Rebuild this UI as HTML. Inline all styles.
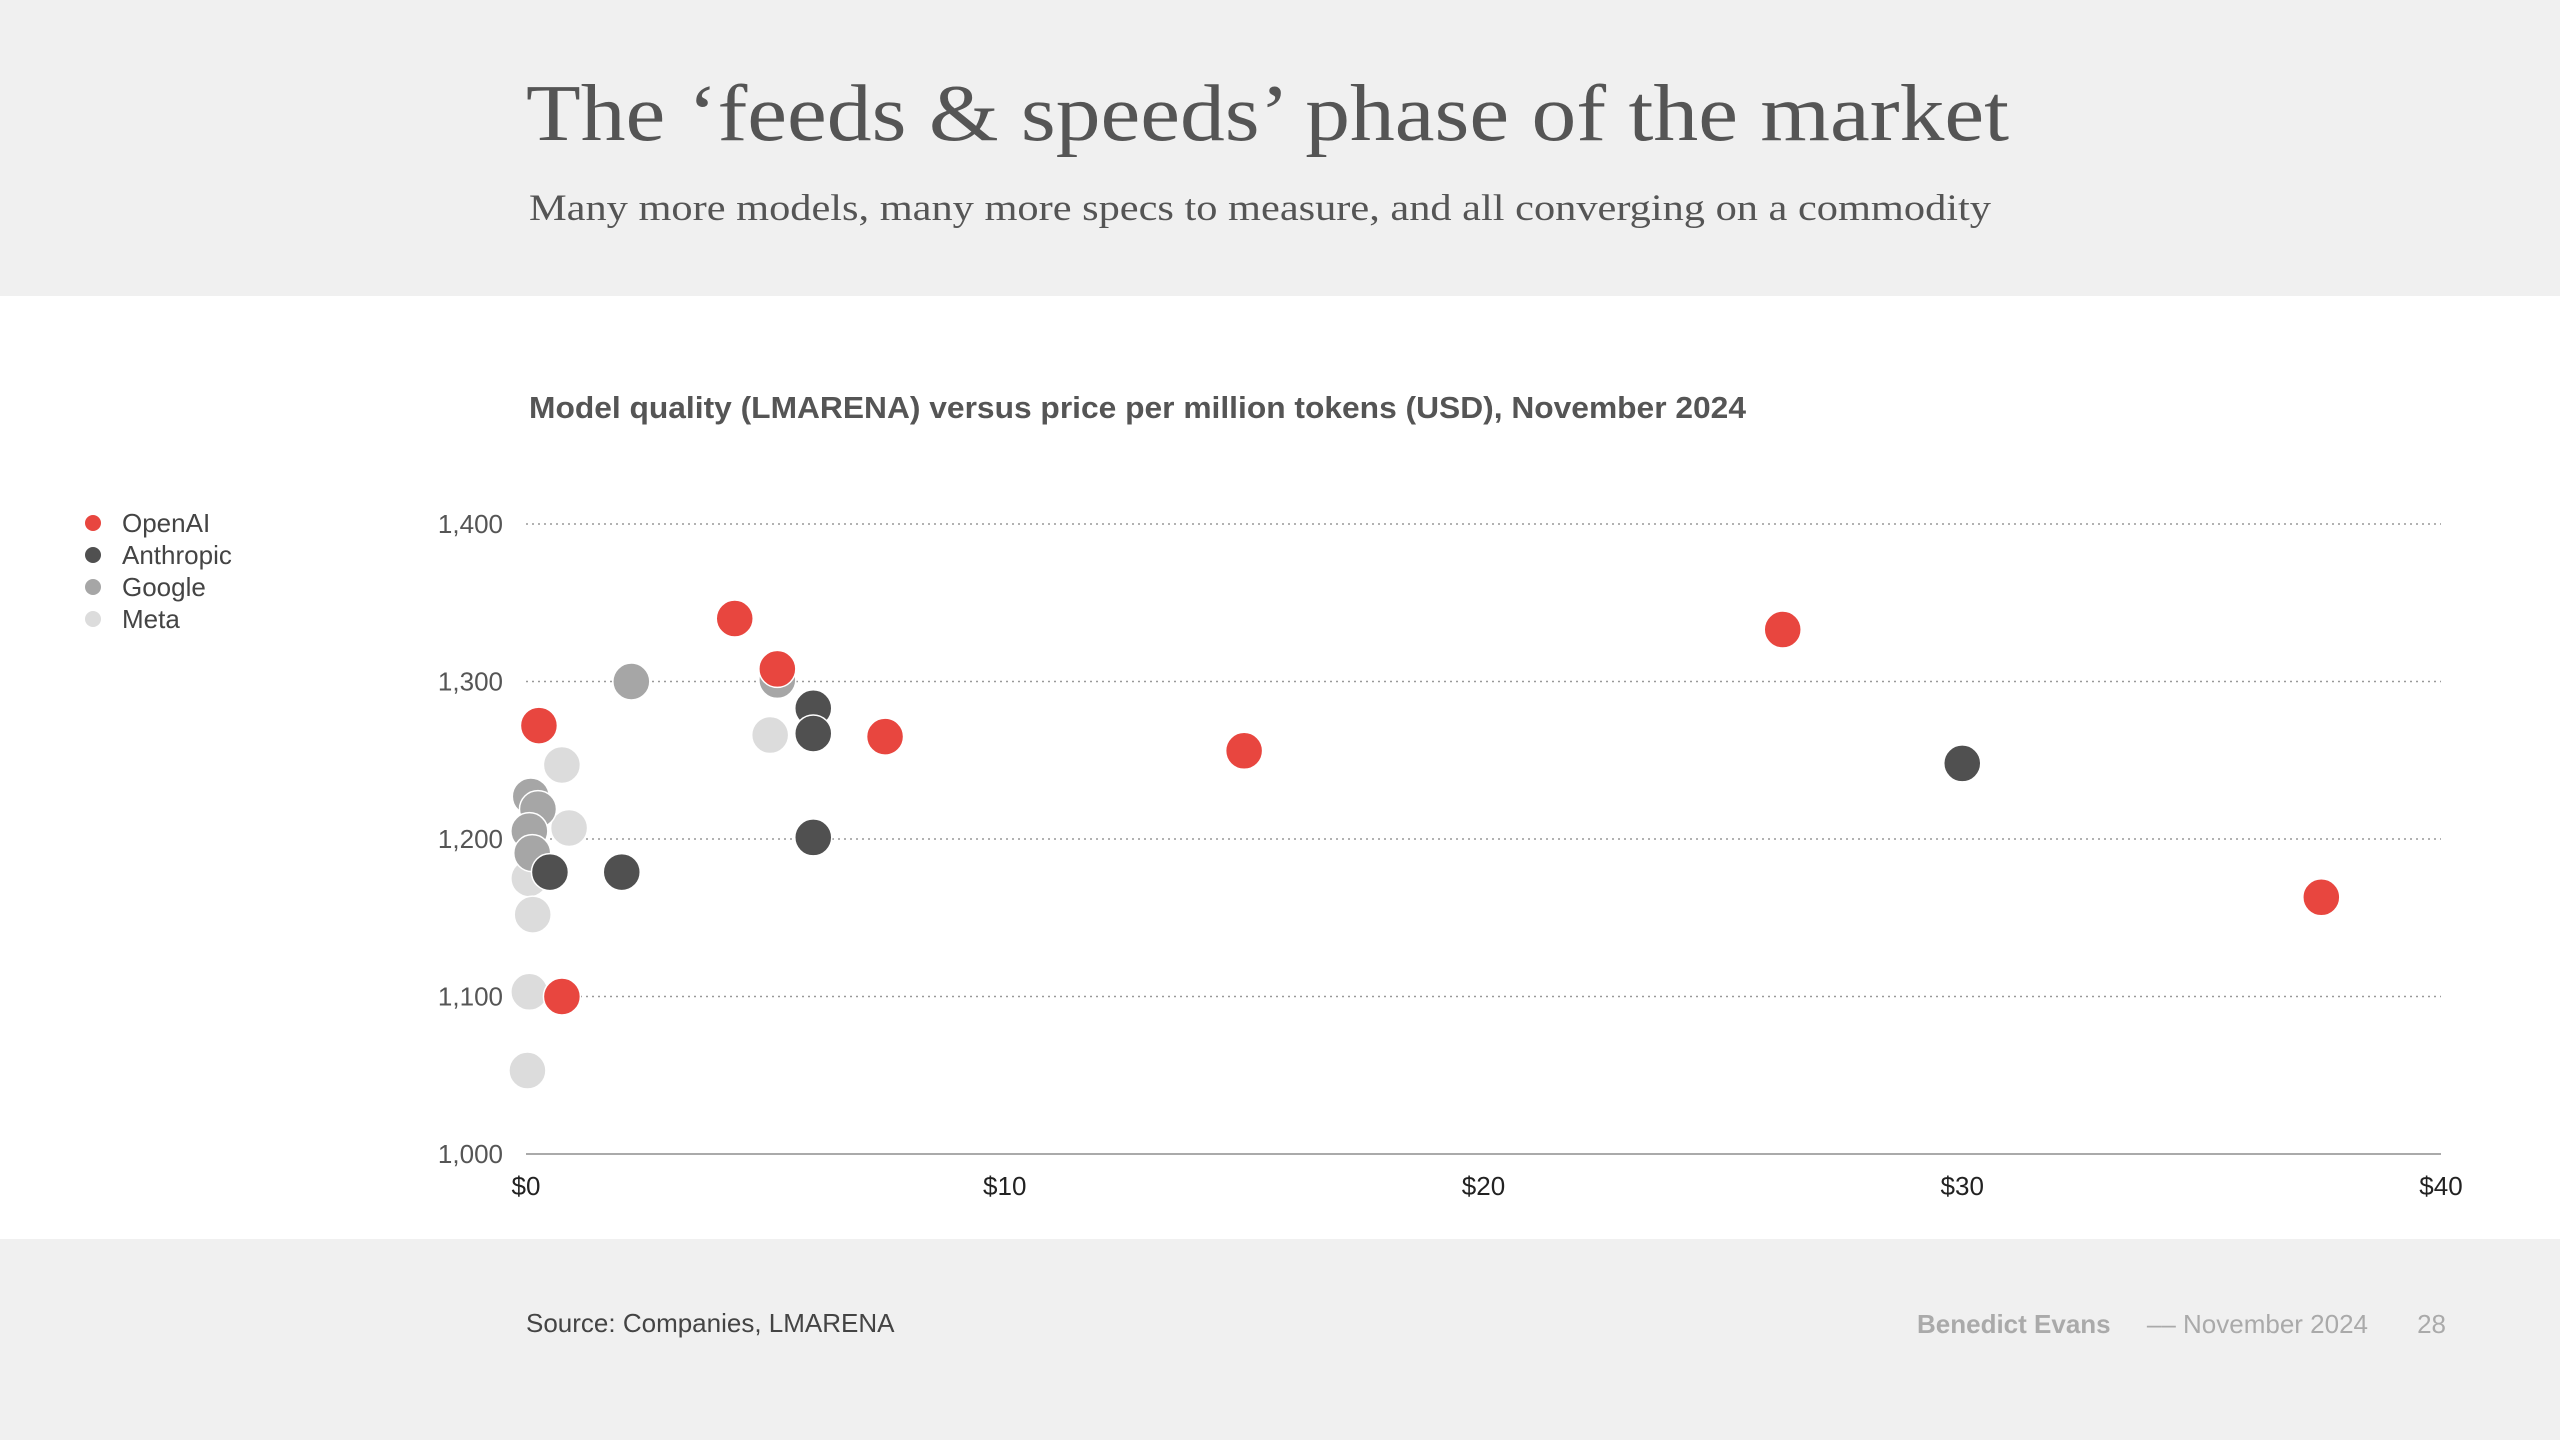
<!DOCTYPE html>
<html><head><meta charset="utf-8"><style>
html,body{margin:0;padding:0;width:2560px;height:1440px;overflow:hidden;background:#fff}
svg text{font-family:"Liberation Sans",sans-serif}
</style></head><body>
<svg id="chart" width="2560" height="1440" viewBox="0 0 2560 1440" xmlns="http://www.w3.org/2000/svg">
<rect x="0" y="0" width="2560" height="296" fill="#f0f0f0"/>
<rect x="0" y="1239" width="2560" height="201" fill="#f0f0f0"/>
<text x="526" y="140" font-size="80" fill="#555" style="font-family:'Liberation Serif',serif" textLength="1483" lengthAdjust="spacingAndGlyphs">The ‘feeds &amp; speeds’ phase of the market</text>
<text x="529" y="220" font-size="37" fill="#555" style="font-family:'Liberation Serif',serif" textLength="1462" lengthAdjust="spacingAndGlyphs">Many more models, many more specs to measure, and all converging on a commodity</text>
<text x="529" y="418" font-size="31" font-weight="bold" fill="#555" textLength="1217" lengthAdjust="spacingAndGlyphs">Model quality (LMARENA) versus price per million tokens (USD), November 2024</text>
<g id="legend"></g>
<g id="grid"></g>
<g id="points"></g>
<text x="526" y="1332" font-size="26" fill="#444">Source: Companies, LMARENA</text>
<text x="1917" y="1333" font-size="26" fill="#aaa" font-weight="bold">Benedict Evans</text>
<text x="2368" y="1333" font-size="26" fill="#aaa" text-anchor="end">––  November 2024</text>
<text x="2446" y="1333" font-size="26" fill="#aaa" text-anchor="end">28</text>
</svg>
<script>
const seriesNames = ['Meta','Google','Anthropic','OpenAI'];
const seriesColors = ['#dcdcdc','#a6a6a6','#505050','#e8463f'];
const metaX = [0.75,0.9,5.1,0.07,0.14,0.07,0.03];
const metaY = [1247,1207,1266,1175,1152,1103,1053];
const googleX = [2.2,5.25,0.1,0.25,0.07,0.13];
const googleY = [1300,1301,1227,1219,1205,1191];
const anthropicX = [6,6,6,30,0.5,2];
const anthropicY = [1283,1267,1201,1248,1179,1179];
const openaiX = [4.36,5.25,0.27,7.5,15,26.25,37.5,0.75];
const openaiY = [1340,1308,1272,1265,1256,1333,1163,1100];
const yTicks = [1000,1100,1200,1300,1400];
const yTickLabels = ['1,000','1,100','1,200','1,300','1,400'];
const xTicks = [0,10,20,30,40];
const xTickLabels = ['$0','$10','$20','$30','$40'];
const legendOrder = ['OpenAI','Anthropic','Google','Meta'];

const NS='http://www.w3.org/2000/svg';
const X0=526,X1=2441,Y0=1154,Y1=524;
function xs(v){return X0+(v-0)/(40-0)*(X1-X0);}
function ys(v){return Y0-(v-1000)/(1400-1000)*(Y0-Y1);}
function mk(tag,attrs,parent){const e=document.createElementNS(NS,tag);for(const k in attrs)e.setAttribute(k,attrs[k]);parent.appendChild(e);return e;}
const grid=document.getElementById('grid');
yTicks.forEach((t,i)=>{
  if(t>1000){
    const l=mk('line',{x1:X0,x2:X1,y1:ys(t),y2:ys(t),stroke:'#999','stroke-width':1.5,'stroke-dasharray':'2 4'},grid);
    
    
  }
  const tx=mk('text',{x:503,y:ys(t)+9,'font-size':26,fill:'#555','text-anchor':'end'},grid);
  tx.textContent=yTickLabels[i];
  
  
});
const ax=mk('line',{x1:X0,x2:X1,y1:Y0,y2:Y0,stroke:'#aaa','stroke-width':2},grid);


xTicks.forEach((t,i)=>{
  const tx=mk('text',{x:xs(t),y:1195,'font-size':26,fill:'#222','text-anchor':'middle'},grid);
  tx.textContent=xTickLabels[i];
  
  
});
const pts=document.getElementById('points');
const allX=[metaX,googleX,anthropicX,openaiX],allY=[metaY,googleY,anthropicY,openaiY];
allX.forEach((xa,s)=>{
  xa.forEach((x,i)=>{
    const c=mk('circle',{cx:xs(x),cy:ys(allY[s][i]),r:18.5,fill:seriesColors[s],stroke:'#fff','stroke-width':1.5},pts);
    
    
  });
});
const lg=document.getElementById('legend');
legendOrder.forEach((n,i)=>{
  const y=523+i*32;
  const c=mk('circle',{cx:93,cy:y,r:8,fill:seriesColors[seriesNames.indexOf(n)]},lg);
  
  
  const t=mk('text',{x:122,y:y+9,'font-size':26,fill:'#444'},lg);
  t.textContent=n;
  
  
});
</script>
</body></html>
